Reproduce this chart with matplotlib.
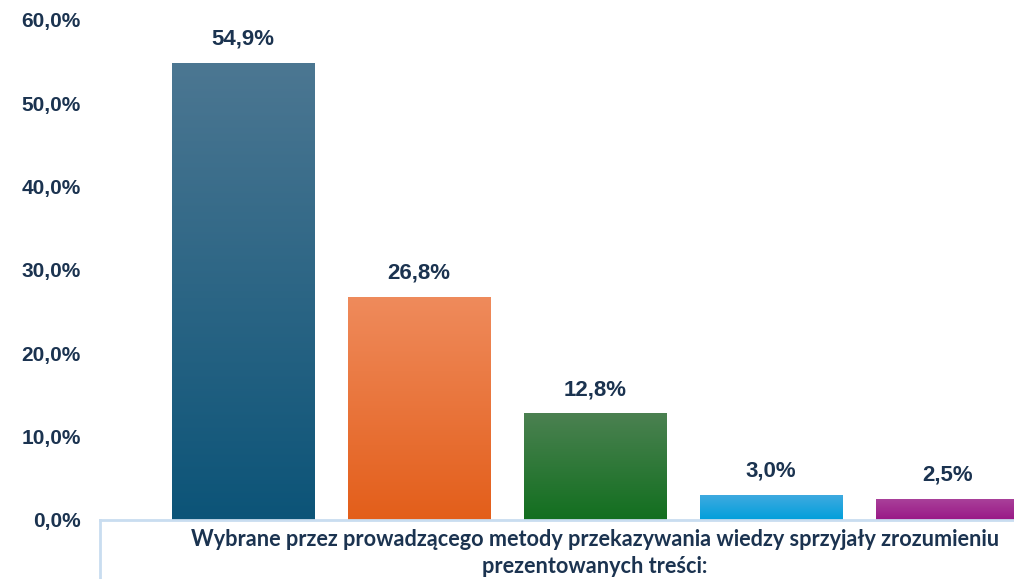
import numpy as np
import matplotlib.pyplot as plt
from matplotlib.colors import LinearSegmentedColormap

# dane
kategorie = ['A', 'B', 'C', 'D', 'E']
wartosci = [0.549, 0.268, 0.128, 0.030, 0.025]
etykiety = ['54,9%', '26,8%', '12,8%', '3,0%', '2,5%']
yticki = [0.0, 0.1, 0.2, 0.3, 0.4, 0.5, 0.6]
ytick_etykiety = ['0,0%', '10,0%', '20,0%', '30,0%', '40,0%', '50,0%', '60,0%']
tytul_linie = ['Wybrane przez prowadzącego metody przekazywania wiedzy sprzyjały zrozumieniu',
               'prezentowanych treści:']

# kolory gradientu (góra, dół)
gradienty = [('#4C7792', '#0C5478'),
             ('#EF8B5C', '#E35E1A'),
             ('#4B8151', '#126F1F'),
             ('#3FAAE0', '#009FDB'),
             ('#A9409A', '#991886')]

tekst_kolor = '#1B3350'
linia_kolor = '#C9DDF0'

plt.rcParams['font.family'] = ['Liberation Sans', 'DejaVu Sans']

W, H = 1014, 579
fig = plt.figure(figsize=(W / 100, H / 100), dpi=100)
ax = fig.add_axes([100 / W, 59 / H, 1 - 100 / W, 500 / H])

x = np.arange(len(kategorie))
slupki = ax.bar(x, wartosci, width=0.81, color='none', zorder=2)

for s, (gora, dol) in zip(slupki, gradienty):
    cmap = LinearSegmentedColormap.from_list('g', [dol, gora])
    x0, y0 = s.get_x(), s.get_y()
    x1, y1 = x0 + s.get_width(), y0 + s.get_height()
    grad = np.linspace(0, 1, 256).reshape(-1, 1)
    im = ax.imshow(grad, cmap=cmap, aspect='auto', origin='lower',
                   extent=[x0, x1, y0, y1], zorder=2)
    im.set_clip_path(s)

for s, e in zip(slupki, etykiety):
    ax.annotate(e, (s.get_x() + s.get_width() / 2, s.get_height()),
                xytext=(0, 9.5), textcoords='offset points', ha='center', va='bottom',
                fontsize=16, fontweight='bold', color=tekst_kolor)

ax.set_xlim(-0.8125, 4.38)
ax.set_ylim(0, 0.6)
ax.set_yticks(yticki)
ax.set_yticklabels(ytick_etykiety)
ax.set_xticks([])
ax.tick_params(axis='y', length=0, pad=14, labelsize=15, labelcolor=tekst_kolor)
for lbl in ax.get_yticklabels():
    lbl.set_fontweight('bold')

for k in ['top', 'right', 'left']:
    ax.spines[k].set_visible(False)
ax.spines['bottom'].set_color(linia_kolor)
ax.spines['bottom'].set_linewidth(2)
ax.plot([0, 0], [0, -59 / 500], transform=ax.transAxes, color=linia_kolor,
        lw=2, clip_on=False)

for linia, yb in zip(tytul_linie, [546, 573]):
    fig.text(595 / W, 1 - yb / H, linia, ha='center', va='baseline',
             fontsize=15.6, fontweight='bold', color=tekst_kolor,
             family=['Lato', 'DejaVu Sans'])

fig.savefig('out.png', dpi=100)
